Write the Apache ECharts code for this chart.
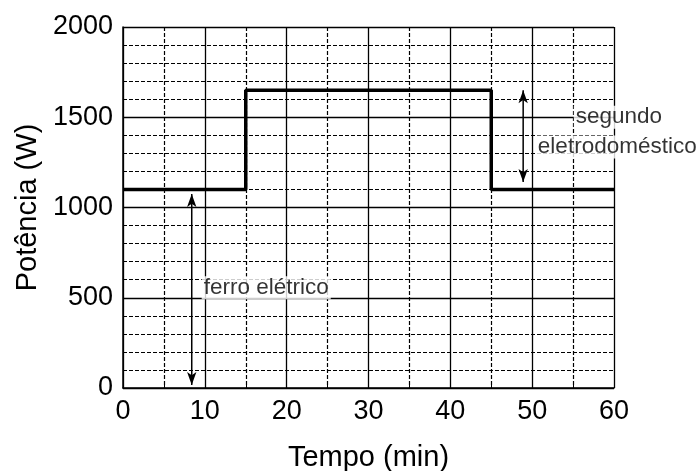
<!DOCTYPE html>
<html><head><meta charset="utf-8">
<script src="https://cdn.jsdelivr.net/npm/echarts@6/dist/echarts.min.js"></script>
<style>html,body{margin:0;padding:0;background:#fff}#c{width:699px;height:471px}</style>
</head><body><div id="c"></div>
<script>
var times = [0, 15, 45, 60];
var power = [1100, 1650, 1100, 1100];
var xTicks = [0, 10, 20, 30, 40, 50, 60];
var yTicks = [0, 500, 1000, 1500, 2000];
var ferroArrow = [[8.4, 17], [8.4, 1075]];
var segundoArrow = [[48.9, 1141], [48.9, 1650]];
var ferroLabel = [[17.5, 555, 'ferro elétrico']];
var segundoLabel = [[60.6, 1500, 'segundo'], [60.4, 1335, 'eletrodoméstico']];

var font = 'Liberation Sans, Arial, sans-serif';
var chart = echarts.init(document.getElementById('c'));
var stepData = times.map(function(t, i){ return [t, power[i]]; });
function labelSeries(data, name){
  return {
    type: 'scatter', name: name, symbolSize: 0, z: 5, clip: false,
    data: data.map(function(d){ return {value: [d[0], d[1]], name: d[2]}; }),
    label: { show: true, position: 'inside', formatter: '{b}', color: '#000',
      fontFamily: font, fontSize: 22.5, backgroundColor: '#fff', padding: [0, 2] },
    silent: true
  };
}
function arrowSeries(pts){
  return {
    type: 'line', z: 4, symbol: 'arrow', symbolSize: [7, 13],
    data: pts.map(function(p, i){ return { value: p, symbolRotate: i === 0 ? 180 : 0 }; }),
    itemStyle: { color: '#000' }, lineStyle: { color: '#000', width: 1.5 }, silent: true
  };
}
chart.setOption({
  animation: false,
  grid: { left: 123, right: 85, top: 27, bottom: 83, containLabel: false, outerBoundsMode: 'none' },
  xAxis: {
    type: 'value', min: 0, max: 60, interval: 10,
    name: 'Tempo (min)', nameLocation: 'middle', nameGap: 55,
    nameTextStyle: { fontFamily: font, fontSize: 29, color: '#000' },
    axisLine: { show: true, onZero: false, lineStyle: { color: '#000', width: 1.5 } },
    axisTick: { show: true, inside: true, length: 5, lineStyle: { color: '#000' } },
    minorTick: { show: true, splitNumber: 2, length: 4, lineStyle: { color: '#000' } },
    axisLabel: { fontFamily: font, fontSize: 27, color: '#000', margin: 10,
      formatter: function(v){ return xTicks.indexOf(v) >= 0 ? String(v) : ''; } },
    splitLine: { show: true, lineStyle: { color: '#000', width: 1.3 } },
    minorSplitLine: { show: true, lineStyle: { color: '#000', width: 1.2, type: [4, 2] } }
  },
  yAxis: {
    type: 'value', min: 0, max: 2000, interval: 500,
    name: 'Potência (W)', nameLocation: 'middle', nameGap: 72,
    nameTextStyle: { fontFamily: font, fontSize: 29, color: '#000' },
    axisLine: { show: true, onZero: false, lineStyle: { color: '#000', width: 1.5 } },
    axisTick: { show: true, inside: true, length: 5, lineStyle: { color: '#000' } },
    minorTick: { show: true, splitNumber: 5, length: 4, lineStyle: { color: '#000' } },
    axisLabel: { fontFamily: font, fontSize: 27, color: '#000', margin: 10,
      formatter: function(v){ return yTicks.indexOf(v) >= 0 ? String(v) : ''; } },
    splitLine: { show: true, lineStyle: { color: '#000', width: 1.3 } },
    minorSplitLine: { show: true, lineStyle: { color: '#000', width: 1.2, type: [4, 2] } }
  },
  series: [
    { type: 'line', step: 'end', data: stepData, symbol: 'none', z: 4,
      lineStyle: { color: '#000', width: 3.5 } },
    arrowSeries(ferroArrow),
    arrowSeries(segundoArrow),
    labelSeries(ferroLabel, 'ferro'),
    labelSeries(segundoLabel, 'segundo')
  ]
});
</script></body></html>
